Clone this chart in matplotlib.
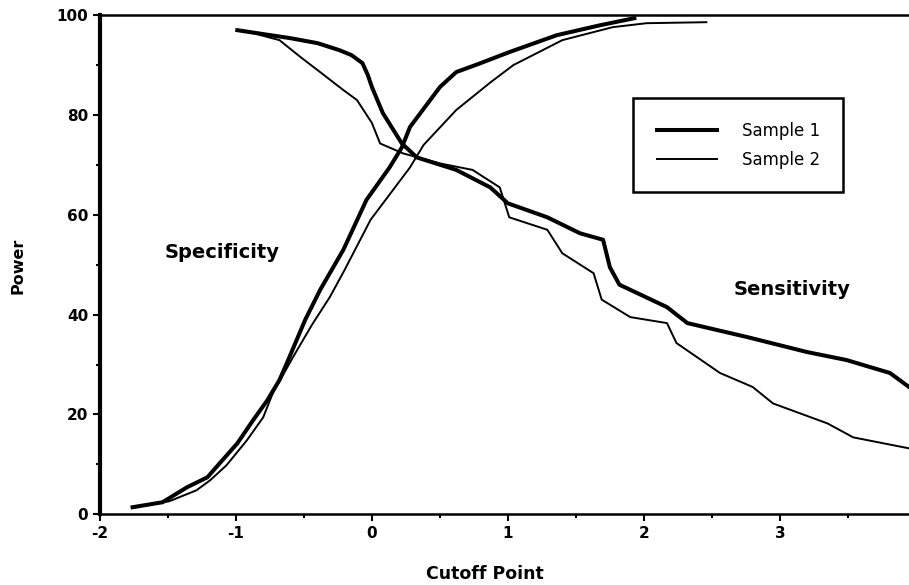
import numpy as np
import matplotlib.pyplot as plt
from matplotlib.ticker import MultipleLocator

# specificity curves (rising)
spec1_x = [-1.76, -1.54, -1.36, -1.21, -1.12, -0.99, -0.875, -0.77, -0.68, -0.63, -0.56, -0.49,
           -0.38, -0.21, -0.04, 0.13, 0.22, 0.28, 0.50, 0.62, 0.79, 1.01, 1.36, 1.68, 1.93]
spec1_y = [1.4, 2.4, 5.4, 7.4, 10.2, 14.2, 18.8, 22.8, 26.9, 30.0, 34.5, 39.0,
           45.0, 53.0, 63.0, 69.5, 73.5, 77.6, 85.6, 88.6, 90.3, 92.6, 96.0, 98.0, 99.4]
spec2_x = [-1.76, -1.49, -1.29, -1.19, -1.07, -0.92, -0.80, -0.73, -0.58, -0.44, -0.31,
           -0.20, -0.01, 0.28, 0.38, 0.62, 0.87, 1.04, 1.40, 1.77, 2.02, 2.46]
spec2_y = [1.4, 2.6, 4.8, 6.8, 9.8, 14.8, 19.4, 24.2, 31.5, 38.0, 43.5,
           49.0, 59.0, 69.5, 74.0, 81.0, 86.5, 90.0, 95.0, 97.6, 98.4, 98.6]

# sensitivity curves (falling)
sens1_x = [-0.99, -0.60, -0.40, -0.24, -0.15, -0.07, -0.03, 0.00, 0.08, 0.22, 0.33, 0.62,
           0.87, 1.00, 1.29, 1.53, 1.70, 1.75, 1.82, 2.17, 2.32, 2.76, 3.20, 3.49, 3.81, 3.95]
sens1_y = [97.0, 95.4, 94.4, 93.0, 92.0, 90.4, 88.0, 85.6, 80.4, 74.3, 71.5, 69.0,
           65.5, 62.3, 59.5, 56.3, 55.0, 49.5, 46.0, 41.5, 38.3, 35.5, 32.5, 30.9, 28.3, 25.5]
sens2_x = [-0.90, -0.68, -0.52, -0.40, -0.21, -0.11, 0.00, 0.06, 0.23, 0.50, 0.74, 0.94, 1.01,
           1.29, 1.40, 1.63, 1.69, 1.90, 2.17, 2.24, 2.56, 2.80, 2.95, 3.35, 3.54, 3.95]
sens2_y = [96.6, 95.0, 91.5, 89.0, 85.0, 83.0, 78.4, 74.3, 72.3, 70.3, 69.0, 65.5, 59.5,
           57.0, 52.3, 48.3, 43.0, 39.5, 38.3, 34.3, 28.3, 25.5, 22.2, 18.2, 15.4, 13.2]

x_ticks = [-2, -1, 0, 1, 2, 3]
y_ticks = [0, 20, 40, 60, 80, 100]

plt.rcParams['font.family'] = ['DejaVu Sans']

fig = plt.figure(figsize=(9.09, 5.85), dpi=100)
ax = fig.add_axes([0.110, 0.121, 0.890, 0.853])

ax.plot(spec1_x, spec1_y, color='black', lw=2.9, label='Sample 1')
ax.plot(spec2_x, spec2_y, color='black', lw=1.4, label='Sample 2')
ax.plot(sens1_x, sens1_y, color='black', lw=2.9)
ax.plot(sens2_x, sens2_y, color='black', lw=1.4)

ax.set_xlim(-2, 3.95)
ax.set_ylim(0, 100)
ax.set_xticks(x_ticks)
ax.set_xticklabels([str(v) for v in x_ticks], fontweight='bold')
ax.set_yticks(y_ticks)
ax.set_yticklabels([str(v) for v in y_ticks], fontweight='bold')
ax.xaxis.set_minor_locator(MultipleLocator(0.5))
ax.yaxis.set_minor_locator(MultipleLocator(10))
ax.tick_params(which='both', direction='out', width=1.5, labelsize=11)
ax.tick_params(which='major', length=5)
ax.tick_params(which='minor', length=3)

ax.spines['right'].set_visible(False)
ax.spines['left'].set_linewidth(3)
ax.spines['bottom'].set_linewidth(1.8)
ax.spines['top'].set_linewidth(1.8)

ax.set_xlabel('Cutoff Point', fontsize=12.5, fontweight='bold')
ax.set_ylabel('Power', fontsize=11.5, fontweight='bold')
ax.xaxis.set_label_coords(0.476, -0.12)
ax.xaxis.label.set_va('center')
ax.yaxis.set_label_coords(-0.101, 0.497)
ax.yaxis.label.set_va('center')

ax.text(-1.1, 52.5, 'Specificity', fontsize=14, fontweight='bold', ha='center', va='center')
ax.text(3.09, 45, 'Sensitivity', fontsize=14, fontweight='bold', ha='center', va='center')

leg = ax.legend(loc='upper left', bbox_to_anchor=(0.649, 0.85), fancybox=False,
                edgecolor='black', framealpha=1, fontsize=12, handlelength=3.6,
                handletextpad=1.5, borderpad=1.4, labelspacing=0.65)
leg.get_frame().set_linewidth(1.8)

fig.savefig('out.png', dpi=100)
